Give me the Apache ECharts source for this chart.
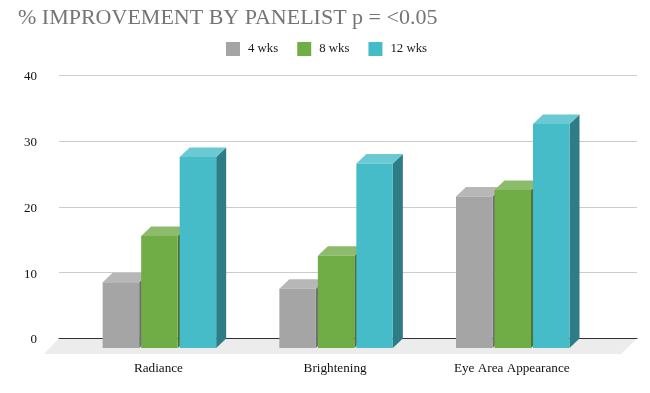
<!DOCTYPE html>
<html>
<head>
<meta charset="utf-8">
<style>html,body{margin:0;padding:0;background:#fff}#c{width:650px;height:393px}</style>
<script src="https://cdn.jsdelivr.net/npm/echarts@6/dist/echarts.min.js"></script>
</head>
<body>
<div id="c"></div>
<script>
const titleText = '% IMPROVEMENT BY PANELIST p = <0.05';
const categories = ['Radiance', 'Brightening', 'Eye Area Appearance'];
const wks4 = [10, 9, 23];
const wks8 = [17, 14, 24];
const wks12 = [29, 28, 34];
const seriesNames = ['4 wks', '8 wks', '12 wks'];
const FONT = '"Liberation Serif", serif';
const DX = 10, DY = 9.5, BAR_W = 36.5, STEP = 38.5;

const chart = echarts.init(document.getElementById('c'), null, {renderer: 'canvas'});

function barSeries(name, values, idx, front, top, side) {
  return {
    name, type: 'custom', xAxisIndex: 1, yAxisIndex: 1, z: 5 + idx,
    itemStyle: {color: front},
    data: values.map((v, i) => [i, v]),
    encode: {x: 0, y: 1},
    renderItem(params, api) {
      const p = api.coord([api.value(0), api.value(1)]);
      const b = api.coord([api.value(0), 0]);
      const x0 = p[0] + (idx - 1) * STEP - BAR_W / 2, x1 = x0 + BAR_W;
      const yt = p[1] + DY, yb = b[1] + DY;
      const poly = (pts, fill) => ({type: 'polygon', shape: {points: pts}, style: {fill}});
      return {type: 'group', children: [
        poly([[x1, yt], [x1 + DX, yt - DY], [x1 + DX, yb - DY], [x1, yb]], side),
        poly([[x0, yt], [x0 + DX, yt - DY], [x1 + DX, yt - DY], [x1, yt]], top),
        poly([[x0, yt], [x1, yt], [x1, yb], [x0, yb]], front)
      ]};
    }
  };
}

chart.setOption({
  animation: false,
  backgroundColor: '#fff',
  title: {
    text: titleText, left: 13, top: 2,
    textStyle: {fontFamily: FONT, fontSize: 22, fontWeight: 'normal', color: '#757575'}
  },
  legend: {
    left: 221, top: 37, itemWidth: 14, itemHeight: 14, itemGap: 19, icon: 'rect',
    data: seriesNames,
    textStyle: {fontFamily: FONT, fontSize: 12.8, color: '#1a1a1a', padding: [0, 0, 0, 3]}
  },
  grid: [
    {left: 59, right: 13, top: 75, height: 263.5},
    {left: 71.1, width: 530, top: 75, height: 263.5}
  ],
  xAxis: [
    {type: 'category', gridIndex: 0, data: categories,
     axisLabel: {show: false}, axisTick: {show: false},
     axisLine: {show: true, onZero: true, lineStyle: {color: '#333', width: 1}}, z: 3},
    {type: 'category', gridIndex: 1, data: categories,
     axisTick: {show: false}, axisLine: {show: false},
     axisLabel: {margin: 24, padding: [0, 2, 0, 0], fontFamily: FONT, fontSize: 13.2, color: '#111'}}
  ],
  yAxis: [
    {type: 'value', gridIndex: 0, min: 0, max: 40, interval: 10,
     axisLine: {show: false}, axisTick: {show: false},
     splitLine: {lineStyle: {color: '#cccccc', width: 1}},
     axisLabel: {margin: 22, verticalAlign: 'top', lineHeight: 3, fontFamily: FONT, fontSize: 13, color: '#111'}},
    {type: 'value', gridIndex: 1, min: 0, max: 40, interval: 10, show: false}
  ],
  series: [
    {type: 'custom', xAxisIndex: 0, yAxisIndex: 0, z: 1, silent: true, data: [[0, 0]],
     renderItem(params, api) {
       const c = params.coordSys, y0 = api.coord([0, 0])[1];
       return {type: 'polygon', shape: {points: [
         [c.x, y0], [c.x + c.width, y0], [c.x + c.width - 16, y0 + 15.5], [c.x - 15, y0 + 15.5]
       ]}, style: {fill: '#ececec'}};
     }},
    barSeries(seriesNames[0], wks4, 0, '#a5a5a5', '#b7b7b7', '#6f6f6f'),
    barSeries(seriesNames[1], wks8, 1, '#70ad47', '#8cbb6b', '#4b7430'),
    barSeries(seriesNames[2], wks12, 2, '#45bcc8', '#6ac9d2', '#2e7c85')
  ]
});
</script>
</body>
</html>
